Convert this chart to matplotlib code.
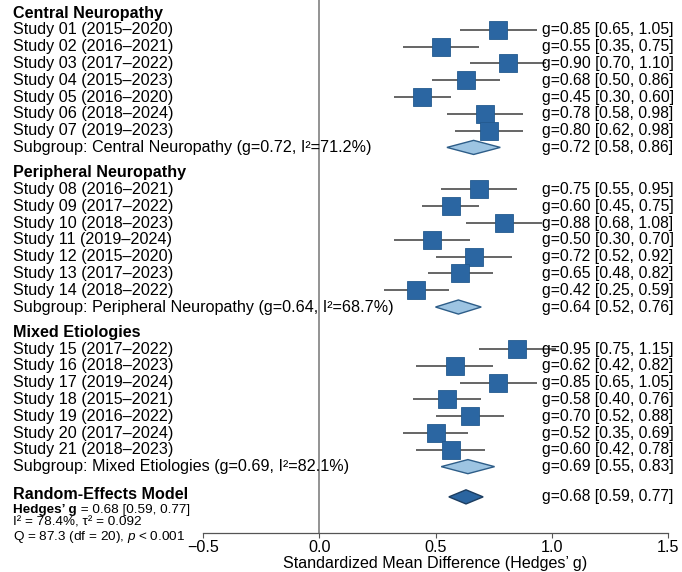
import matplotlib
matplotlib.use("Agg")
import matplotlib.pyplot as plt
from matplotlib.transforms import blended_transform_factory
from matplotlib.patches import Polygon

plt.rcParams['font.family'] = ['Liberation Sans', 'DejaVu Sans']
plt.rcParams['mathtext.fontset'] = 'custom'
plt.rcParams['mathtext.rm'] = 'Liberation Sans'
plt.rcParams['mathtext.it'] = 'Liberation Sans:italic'
plt.rcParams['mathtext.bf'] = 'Liberation Sans:bold'
plt.rcParams['axes.unicode_minus'] = True

# ---------------- data ----------------
groups = ["Central Neuropathy", "Peripheral Neuropathy", "Mixed Etiologies"]
study_labels = [
    ["Study 01 (2015–2020)", "Study 02 (2016–2021)", "Study 03 (2017–2022)",
     "Study 04 (2015–2023)", "Study 05 (2016–2020)", "Study 06 (2018–2024)",
     "Study 07 (2019–2023)"],
    ["Study 08 (2016–2021)", "Study 09 (2017–2022)", "Study 10 (2018–2023)",
     "Study 11 (2019–2024)", "Study 12 (2015–2020)", "Study 13 (2017–2023)",
     "Study 14 (2018–2022)"],
    ["Study 15 (2017–2022)", "Study 16 (2018–2023)", "Study 17 (2019–2024)",
     "Study 18 (2015–2021)", "Study 19 (2016–2022)", "Study 20 (2017–2024)",
     "Study 21 (2018–2023)"],
]
g_values = [
    [0.85, 0.55, 0.90, 0.68, 0.45, 0.78, 0.80],
    [0.75, 0.60, 0.88, 0.50, 0.72, 0.65, 0.42],
    [0.95, 0.62, 0.85, 0.58, 0.70, 0.52, 0.60],
]
ci_low = [
    [0.65, 0.35, 0.70, 0.50, 0.30, 0.58, 0.62],
    [0.55, 0.45, 0.68, 0.30, 0.52, 0.48, 0.25],
    [0.75, 0.42, 0.65, 0.40, 0.52, 0.35, 0.42],
]
ci_high = [
    [1.05, 0.75, 1.10, 0.86, 0.60, 0.98, 0.98],
    [0.95, 0.75, 1.08, 0.70, 0.92, 0.82, 0.59],
    [1.15, 0.82, 1.05, 0.76, 0.88, 0.69, 0.78],
]
sub_g = [0.72, 0.64, 0.69]
sub_low = [0.58, 0.52, 0.55]
sub_high = [0.86, 0.76, 0.83]
sub_i2 = [71.2, 68.7, 82.1]

overall_g, overall_low, overall_high = 0.68, 0.59, 0.77
overall_i2, overall_tau2 = 78.4, 0.092
overall_q, overall_df = 87.3, 20

tick_values = [-0.5, 0.0, 0.5, 1.0, 1.5]

# ---------------- style ----------------
SQ_COLOR = "#2b66a2"
SQ_EDGE = "#235a8f"
SUB_FILL = "#9dc4e2"
SUB_EDGE = "#2d5d88"
OV_FILL = "#2b65a0"
OV_EDGE = "#1c3d60"
LINE_COLOR = "#3c3c3c"
FS = 11.6
FS_SMALL = 9.7

fig = plt.figure(figsize=(6.82, 5.72), dpi=100)
rect = [203 / 682, 39 / 572, 465 / 682, 533 / 572]
axt = fig.add_axes(rect)
axt.set_xlim(-0.5, 1.5)
axt.set_ylim(30.95, -0.774)
for s in ["top", "right", "left"]:
    axt.spines[s].set_visible(False)
axt.spines["bottom"].set_color("#555555")
axt.spines["bottom"].set_linewidth(0.9)
axt.set_yticks([])
axt.set_xticks(tick_values)
axt.set_xticklabels([f"{v:.1f}".replace("-", "−") for v in tick_values], fontsize=FS)
axt.tick_params(axis="x", length=3.5, width=0.8, color="#555555", pad=1.5)
axt.set_xlabel("Standardized Mean Difference (Hedges’ g)", fontsize=FS, labelpad=1)
axt.axvline(0, color="#8a8a8a", lw=1.3, zorder=1)

ax = axt.twiny()
ax.set_xlim(-0.70, 1.74)
ax.set_ylim(30.95, -0.774)
ax.axis("off")

left_tr = blended_transform_factory(fig.transFigure, ax.transData)
right_tr = blended_transform_factory(axt.transAxes, ax.transData)
LX = 13 / 682
RX = (542 - 203) / 465
H = 0.42


def diamond(center, lo, hi, r, fc, ec):
    poly = Polygon([(lo, r), (center, r - H), (hi, r), (center, r + H)],
                   closed=True, facecolor=fc, edgecolor=ec, lw=1.0, zorder=3)
    ax.add_patch(poly)


row = 0.0
for gi, grp in enumerate(groups):
    fig.text(LX, row, grp, transform=left_tr, fontsize=FS, fontweight="bold",
             va="center", ha="left")
    for j, lab in enumerate(study_labels[gi]):
        row += 1
        g, lo, hi = g_values[gi][j], ci_low[gi][j], ci_high[gi][j]
        ax.hlines(row, lo, hi, color=LINE_COLOR, lw=1.1, zorder=2)
        ax.plot([g], [row], marker="s", markersize=12.5, color=SQ_COLOR,
                markeredgecolor=SQ_EDGE, markeredgewidth=0.6, zorder=3)
        fig.text(LX, row, lab, transform=left_tr, fontsize=FS, va="center", ha="left")
        fig.text(RX, row, f"g={g:.2f} [{lo:.2f}, {hi:.2f}]", transform=right_tr,
                 fontsize=11.3, va="center", ha="left")
    row += 1
    diamond(sub_g[gi], sub_low[gi], sub_high[gi], row, SUB_FILL, SUB_EDGE)
    fig.text(LX, row, f"Subgroup: {grp} (g={sub_g[gi]:.2f}, I²={sub_i2[gi]:.1f}%)",
             transform=left_tr, fontsize=FS, va="center", ha="left")
    fig.text(RX, row, f"g={sub_g[gi]:.2f} [{sub_low[gi]:.2f}, {sub_high[gi]:.2f}]",
             transform=right_tr, fontsize=11.3, va="center", ha="left")
    if gi < len(groups) - 1:
        row += 1.5

row += 1.8
diamond(overall_g, overall_low, overall_high, row, OV_FILL, OV_EDGE)
fig.text(RX, row, f"g={overall_g:.2f} [{overall_low:.2f}, {overall_high:.2f}]",
         transform=right_tr, fontsize=11.3, va="center", ha="left")
fig.text(LX, row - 0.15, "Random-Effects Model", transform=left_tr, fontsize=FS,
         fontweight="bold", va="center", ha="left")

t1 = fig.text(LX, row + 0.78, "Hedges’ g", transform=left_tr, fontsize=FS_SMALL,
              fontweight="bold", va="center", ha="left")
ax.annotate(f" = {overall_g:.2f} [{overall_low:.2f}, {overall_high:.2f}]",
            xy=(1, 0), xycoords=t1, va="bottom", ha="left", fontsize=FS_SMALL,
            annotation_clip=False)
fig.text(LX, row + 1.52, f"I² = {overall_i2:.1f}%, τ² = {overall_tau2:.3f}",
         transform=left_tr, fontsize=FS_SMALL, va="center", ha="left")
fig.text(LX, row + 2.38, f"Q = {overall_q:.1f} (df = {overall_df}), $p$ < 0.001",
         transform=left_tr, fontsize=FS_SMALL, va="center", ha="left")

fig.savefig("out.png", dpi=100)
